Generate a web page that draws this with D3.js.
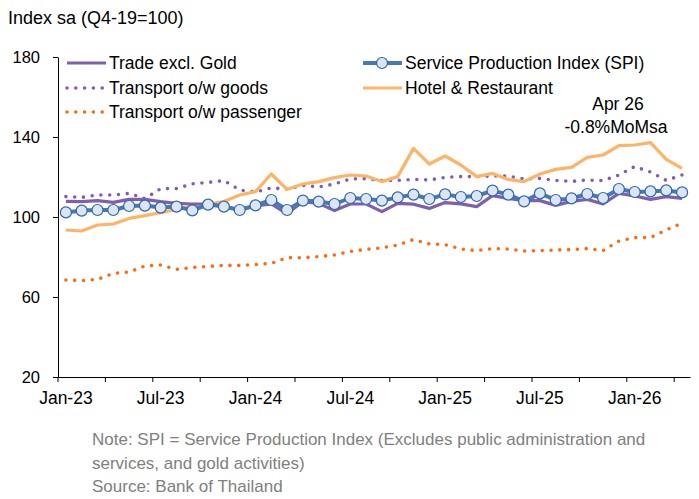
<!DOCTYPE html>
<html>
<head>
<meta charset="utf-8">
<script src="https://cdn.jsdelivr.net/npm/d3@7"></script>
<style>
  body { margin: 0; background: #fff; }
  svg text { font-family: "Liberation Sans", Arial, sans-serif; }
</style>
</head>
<body>
<div id="chart"></div>
<script>
const months = ["Jan-23","Feb-23","Mar-23","Apr-23","May-23","Jun-23","Jul-23","Aug-23","Sep-23","Oct-23","Nov-23","Dec-23",
  "Jan-24","Feb-24","Mar-24","Apr-24","May-24","Jun-24","Jul-24","Aug-24","Sep-24","Oct-24","Nov-24","Dec-24",
  "Jan-25","Feb-25","Mar-25","Apr-25","May-25","Jun-25","Jul-25","Aug-25","Sep-25","Oct-25","Nov-25","Dec-25",
  "Jan-26","Feb-26","Mar-26","Apr-26"];

const spi = [102.3,103.2,103.5,103.5,105.5,105.7,104.7,105.2,103.3,106.2,105.2,103.5,
  105.8,108.5,103.5,108.2,107.7,106.5,109.5,109,108.2,109.8,111.2,109,
  111.3,110,110.5,113.2,111.2,107.8,111.8,108.5,109.3,111.5,109.5,114,
  112.5,112.8,113.3,112.3];
const trade = [107.8,107.7,108.2,107.3,108.8,108.8,107.7,106.8,106.5,106.5,105.5,103.5,
  105.5,106.5,101.6,107.7,106.8,103.2,106.5,106.5,102.7,106.8,106.4,104.3,
  107.2,106.6,105.2,110.7,109.3,108.2,108.2,105.8,107.8,108.8,106.5,111.8,
  110.5,108.8,110.2,109.3];
const goods = [110.2,109.8,111,111,111.8,109.2,114.2,114.2,116.6,117.3,118.2,113.5,
  112.5,114.5,114,115.8,115,116.5,119,119.2,118.2,118.3,118.8,118.5,
  119.8,120.2,120.2,120.5,120.5,119,119.3,118.3,117.8,118.5,118.2,121,
  125.2,122.5,118.3,121];
const hotel = [93.5,93,96,96.5,99.3,100.7,102.2,103.8,105.2,106.5,107.7,111,
  112.7,121.5,113.8,116.5,117.7,119.7,121,120.5,117.7,120.2,134.3,126.5,
  130.5,126,120.2,121.8,118.8,117.7,121.5,123.8,124.8,129.8,131,135.7,
  136,137.2,128.8,124.3];
const passenger = [68.5,68.2,68.8,71.8,72.5,75.5,76,73.8,74.8,75.3,75.8,75.8,
  76.2,76.8,79.7,79.6,80.2,81,82.8,83.8,84.6,86,88.7,86.5,
  86.2,84,83.2,84.2,84,83,83.2,83.5,83.7,84.2,83.2,88,
  89.7,89.7,93.5,97];
const yTicks = [20, 60, 100, 140, 180];

const W = 699, H = 499;
const svg = d3.select("#chart").append("svg").attr("width", W).attr("height", H);

const x = d3.scaleBand().domain(months).range([58, 690]).padding(0);
const y = d3.scaleLinear().domain([20, 180]).range([377, 57]);
const cx = d => x(d) + x.bandwidth() / 2;

// title
svg.append("text").attr("x", 8).attr("y", 24).attr("font-size", 18).attr("fill", "#000")
  .text("Index sa (Q4-19=100)");

// y axis
const yAxis = svg.append("g").attr("transform", "translate(58,0)")
  .call(d3.axisLeft(y).tickValues(yTicks).tickSize(5).tickSizeOuter(0).tickPadding(13));
yAxis.selectAll("text").attr("font-size", 16.5).attr("fill", "#000");
yAxis.selectAll("line, path").attr("stroke", "#000");

// x axis: labels centred on months, ticks at band edges every 3 months
const xAxis = svg.append("g").attr("transform", "translate(0,377)")
  .call(d3.axisBottom(x).tickValues(months.filter((d, i) => i % 6 === 0)).tickSize(0).tickSizeOuter(0).tickPadding(15));
xAxis.selectAll("text").attr("font-size", 17.5).attr("fill", "#000");
xAxis.select(".domain").attr("stroke", "#000");
xAxis.selectAll(".minor").data(months.filter((d, i) => i % 3 === 0)).enter()
  .append("line").attr("class", "minor")
  .attr("x1", d => x(d)).attr("x2", d => x(d)).attr("y1", 0).attr("y2", 5)
  .attr("stroke", "#000");

const line = d3.line().x((d, i) => cx(months[i])).y(d => y(d));

const cGoods = "#7f5fb0", cTrade = "#7f5fb0", cSpi = "#4779b8", cHotel = "#ffb366", cPass = "#ff6a0d";

svg.append("path").datum(goods).attr("d", line).attr("fill", "none")
  .attr("stroke", cGoods).attr("stroke-width", 3.6).attr("stroke-linecap", "round").attr("stroke-dasharray", "0 8.8");
svg.append("path").datum(passenger).attr("d", line).attr("fill", "none")
  .attr("stroke", cPass).attr("stroke-width", 3.6).attr("stroke-linecap", "round").attr("stroke-dasharray", "0 8.8");
svg.append("path").datum(hotel).attr("d", line).attr("fill", "none")
  .attr("stroke", cHotel).attr("stroke-width", 3.2).attr("stroke-linejoin", "round");
svg.append("path").datum(trade).attr("d", line).attr("fill", "none")
  .attr("stroke", cTrade).attr("stroke-width", 3.2).attr("stroke-linejoin", "round");
svg.append("path").datum(spi).attr("d", line).attr("fill", "none")
  .attr("stroke", cSpi).attr("stroke-width", 4).attr("stroke-linejoin", "round");
svg.selectAll(".spiDot").data(spi).enter().append("circle").attr("class", "spiDot")
  .attr("cx", (d, i) => cx(months[i])).attr("cy", d => y(d)).attr("r", 5.5)
  .attr("fill", "#dce6f2").attr("stroke", "#2e67a8").attr("stroke-width", 1.2);

// legend
const legend = [
  { name: "Trade excl. Gold", col: cTrade, type: "solid", lx: 67, ly: 63 },
  { name: "Service Production Index (SPI)", col: cSpi, type: "marker", lx: 363, ly: 63 },
  { name: "Transport o/w goods", col: cGoods, type: "dot", lx: 67, ly: 88 },
  { name: "Hotel & Restaurant", col: cHotel, type: "solid", lx: 363, ly: 88 },
  { name: "Transport o/w passenger", col: cPass, type: "dot", lx: 67, ly: 112 }
];
legend.forEach(l => {
  const g = svg.append("g");
  const ln = g.append("line").attr("x1", l.lx).attr("x2", l.lx + 39).attr("y1", l.ly).attr("y2", l.ly)
    .attr("stroke", l.col);
  if (l.type === "dot") {
    ln.attr("stroke-width", 3.6).attr("stroke-linecap", "round").attr("stroke-dasharray", "0 8.8");
  } else {
    ln.attr("stroke-width", l.type === "marker" ? 4 : 3.2);
  }
  if (l.type === "marker") {
    g.append("circle").attr("cx", l.lx + 19).attr("cy", l.ly).attr("r", 5.5)
      .attr("fill", "#dce6f2").attr("stroke", "#2e67a8").attr("stroke-width", 1.2);
  }
  g.append("text").attr("x", l.lx + 42).attr("y", l.ly + 6).attr("font-size", 17.5).attr("fill", "#000").text(l.name);
});

// annotation
svg.append("text").attr("x", 618).attr("y", 110).attr("text-anchor", "middle").attr("font-size", 17.5).text("Apr 26");
svg.append("text").attr("x", 616).attr("y", 133).attr("text-anchor", "middle").attr("font-size", 17.5).text("-0.8%MoMsa");

// notes
const notes = ["Note: SPI = Service Production Index (Excludes public administration and",
  "services, and gold activities)", "Source: Bank of Thailand"];
svg.selectAll(".note").data(notes).enter().append("text").attr("class", "note")
  .attr("x", 92).attr("y", (d, i) => 445 + i * 23.5).attr("font-size", 17).attr("fill", "#808080").text(d => d);
</script>
</body>
</html>
